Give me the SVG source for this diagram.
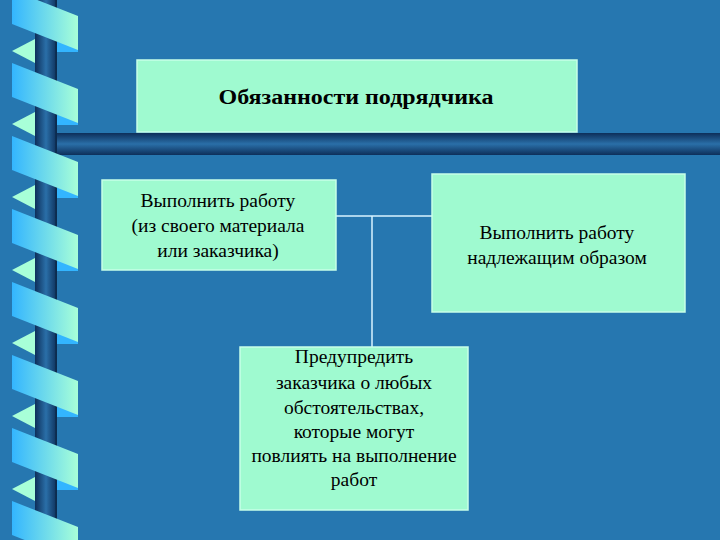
<svg xmlns="http://www.w3.org/2000/svg" width="720" height="540" viewBox="0 0 720 540">
<defs>
<linearGradient id="rib" x1="0" x2="1" y1="0" y2="0"><stop offset="0" stop-color="#33b5ff"/><stop offset="1" stop-color="#a8ffd8"/></linearGradient>
<linearGradient id="bar" x1="0" x2="1" y1="0" y2="0"><stop offset="0" stop-color="#0d2f5a"/><stop offset="0.5" stop-color="#2a6fa8"/><stop offset="1" stop-color="#0d2f5a"/></linearGradient>
<linearGradient id="hbar" x1="0" x2="0" y1="0" y2="1"><stop offset="0" stop-color="#0d2f5a"/><stop offset="0.5" stop-color="#2a6fa8"/><stop offset="1" stop-color="#0d2f5a"/></linearGradient>
<g id="r">
<polygon points="12,-12 35,-24 35,0" fill="#a8ffd8"/>
<polygon points="57,52 78,52 78,62 57,62" fill="#33b5ff"/>
<polygon points="12,0 78,26 78,60 12,34" fill="url(#rib)"/>
</g>
</defs>
<style>
.box{fill:#9ffad0;stroke:#c8ffe8;stroke-width:1.5}
.t{font-family:"Liberation Serif",serif;font-size:19.5px;fill:#000;text-anchor:middle}
.h{font-weight:bold;font-size:20px}
.c{stroke:#d8f4ff;stroke-width:1.5;fill:none}
</style>
<rect width="720" height="540" fill="#2677b0"/>
<g id="decor">
<rect x="35" y="0" width="22" height="540" fill="url(#bar)"/>
<rect x="57" y="133" width="663" height="22" fill="url(#hbar)"/>
<line x1="56" y1="0" x2="56" y2="540" stroke="#0b2440" stroke-width="1"/>
<use href="#r" y="-10"/><use href="#r" y="63"/><use href="#r" y="136"/><use href="#r" y="209"/><use href="#r" y="282"/><use href="#r" y="355"/><use href="#r" y="428"/><use href="#r" y="501"/>
</g>
<g id="connectors">
<path class="c" d="M336,216 H432 M372,216 V347"/>
</g>
<g id="top"><rect class="box" x="137" y="60" width="440" height="72"/><text class="t h" x="356" y="104" textLength="275" lengthAdjust="spacingAndGlyphs">Обязанности подрядчика</text></g>
<g id="left"><rect class="box" x="102" y="180" width="234" height="90"/>
<text class="t" x="218" y="207">Выполнить работу</text><text class="t" x="218" y="232">(из своего материала</text><text class="t" x="218" y="257">или заказчика)</text></g>
<g id="right"><rect class="box" x="432" y="174" width="253" height="138"/>
<text class="t" x="557" y="239">Выполнить работу</text><text class="t" x="557" y="264">надлежащим образом</text></g>
<g id="bottom"><rect class="box" x="240" y="347" width="228" height="163"/>
<text class="t" x="354" y="363">Предупредить</text><text class="t" x="354" y="389">заказчика о любых</text><text class="t" x="354" y="414">обстоятельствах,</text><text class="t" x="354" y="438">которые могут</text><text class="t" x="354" y="462">повлиять на выполнение</text><text class="t" x="354" y="486">работ</text></g>
</svg>
